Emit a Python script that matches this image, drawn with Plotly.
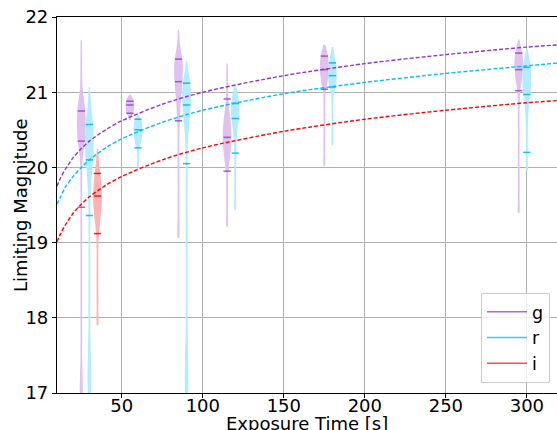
import plotly.graph_objects as go

# ---------------- data ----------------
# fitted limiting-magnitude curves
curve_t = [10, 12, 15, 20, 25, 30, 40, 50, 75, 100, 150, 200, 250, 300, 320]
curve_g = [19.75, 19.85, 19.97, 20.13, 20.25, 20.35, 20.50, 20.62, 20.84, 21.00, 21.22, 21.38, 21.50, 21.60, 21.63]
curve_r = [19.51, 19.60, 19.73, 19.88, 20.00, 20.10, 20.26, 20.38, 20.60, 20.76, 20.98, 21.13, 21.25, 21.35, 21.39]
curve_i = [19.01, 19.11, 19.23, 19.39, 19.51, 19.61, 19.76, 19.88, 20.10, 20.26, 20.48, 20.64, 20.76, 20.86, 20.89]

# violin positions (exposure time, s)
g_pos = [25, 55, 85, 115, 175, 295]
r_pos = [30, 60, 90, 120, 180, 300]
i_pos = [35]

# violin density profiles: magnitude levels and relative widths
g_mag = [
    [21.69, 21.4, 21.1, 20.95, 20.8, 20.6, 20.4, 20.25, 20.1, 19.95, 19.6, 19.3, 18.5, 17.5, 16.9],
    [20.97, 20.93, 20.88, 20.83, 20.78, 20.73, 20.69, 20.66, 20.63],
    [21.83, 21.65, 21.5, 21.35, 21.2, 21.05, 20.9, 20.75, 20.62, 20.5, 20.2, 19.8, 19.4, 19.06],
    [21.38, 21.2, 21.0, 20.9, 20.75, 20.6, 20.45, 20.3, 20.15, 20.0, 19.9, 19.7, 19.4, 19.21],
    [21.63, 21.55, 21.45, 21.35, 21.25, 21.15, 21.05, 20.98, 20.85, 20.5, 20.2, 20.02],
    [21.70, 21.6, 21.5, 21.4, 21.3, 21.2, 21.1, 21.0, 20.9, 20.5, 20.0, 19.6, 19.39],
]
g_dens = [
    [0.15, 0.2, 0.25, 0.5, 0.85, 1.0, 0.9, 0.6, 0.3, 0.22, 0.2, 0.2, 0.2, 0.2, 0.2],
    [0.15, 0.6, 0.9, 1.0, 0.95, 0.8, 0.5, 0.25, 0.15],
    [0.15, 0.3, 0.7, 1.0, 0.95, 0.8, 0.55, 0.4, 0.3, 0.22, 0.2, 0.2, 0.2, 0.15],
    [0.15, 0.2, 0.22, 0.3, 0.55, 0.85, 1.0, 0.95, 0.7, 0.4, 0.22, 0.2, 0.2, 0.15],
    [0.2, 0.6, 0.9, 1.0, 0.95, 0.75, 0.45, 0.25, 0.2, 0.2, 0.2, 0.15],
    [0.15, 0.5, 0.85, 1.0, 0.95, 0.8, 0.55, 0.3, 0.22, 0.2, 0.2, 0.2, 0.15],
]
g_quant = [
    [20.75, 20.35, 19.47],
    [20.88, 20.83, 20.72],
    [21.44, 21.14, 20.62],
    [20.91, 20.40, 19.95],
    [21.48, 21.30, 21.04],
    [21.52, 21.30, 21.02],
]

r_mag = [
    [21.07, 20.95, 20.8, 20.6, 20.4, 20.2, 20.0, 19.8, 19.6, 19.4, 19.0, 18.0, 16.9],
    [20.70, 20.66, 20.6, 20.5, 20.4, 20.3, 20.23, 20.15, 20.0],
    [21.42, 21.3, 21.15, 21.0, 20.85, 20.7, 20.55, 20.4, 20.25, 20.1, 19.7, 19.0, 18.0, 16.9],
    [21.10, 21.0, 20.9, 20.8, 20.7, 20.6, 20.45, 20.3, 20.15, 19.9, 19.6, 19.43],
    [21.60, 21.5, 21.4, 21.3, 21.2, 21.1, 21.02, 20.95, 20.8, 20.5, 20.29],
    [21.58, 21.45, 21.35, 21.2, 21.05, 20.95, 20.8, 20.65, 20.5, 20.3, 20.15, 19.95],
]
r_dens = [
    [0.15, 0.25, 0.45, 0.8, 1.0, 0.95, 0.7, 0.45, 0.28, 0.22, 0.2, 0.2, 0.2],
    [0.15, 0.5, 0.9, 1.0, 0.9, 0.55, 0.28, 0.2, 0.15],
    [0.15, 0.35, 0.8, 1.0, 0.95, 0.8, 0.55, 0.35, 0.25, 0.22, 0.2, 0.2, 0.2, 0.2],
    [0.15, 0.5, 0.85, 1.0, 0.95, 0.75, 0.45, 0.3, 0.22, 0.2, 0.2, 0.15],
    [0.2, 0.45, 0.75, 0.95, 1.0, 0.8, 0.45, 0.25, 0.2, 0.2, 0.15],
    [0.15, 0.55, 0.85, 1.0, 0.95, 0.75, 0.45, 0.3, 0.24, 0.2, 0.2, 0.15],
]
r_quant = [
    [20.57, 20.10, 19.36],
    [20.64, 20.50, 20.26],
    [21.12, 20.83, 20.05],
    [20.85, 20.65, 20.19],
    [21.39, 21.22, 21.07],
    [21.33, 20.97, 20.20],
]

i_mag = [
    [20.25, 20.1, 19.95, 19.8, 19.65, 19.5, 19.35, 19.2, 19.05, 18.9, 18.5, 18.1, 17.9],
]
i_dens = [
    [0.15, 0.3, 0.55, 0.85, 1.0, 0.95, 0.7, 0.45, 0.25, 0.2, 0.2, 0.2, 0.15],
]
i_quant = [
    [19.92, 19.62, 19.12],
]

x_ticks = [50, 100, 150, 200, 250, 300]
y_ticks = [17, 18, 19, 20, 21, 22]
x_title = "Exposure Time [s]"
y_title = "Limiting Magnitude"

# ---------------- styling ----------------
HALF_W = 2.7     # violin half width at max density (s)
Q_HALF = 2.25    # quantile tick half length (s)
FONT = "DejaVu Sans"

bands = [
    ("g", g_pos, g_mag, g_dens, g_quant, "rgb(224,194,240)", "rgba(153,50,204,0.8)", "#9932CC", curve_g, "rgba(153,50,204,0.75)"),
    ("r", r_pos, r_mag, r_dens, r_quant, "rgb(179,236,255)", "rgba(0,175,240,0.85)", "#00BFFF", curve_r, "rgba(0,191,255,0.8)"),
    ("i", i_pos, i_mag, i_dens, i_quant, "rgb(255,178,178)", "rgba(230,0,0,0.85)", "#FF0000", curve_i, "rgba(255,0,0,0.7)"),
]

fig = go.Figure()

# violins
for name, pos, mags, dens, quants, fillc, qc, lc, curve, legc in bands:
    for p, m, d in zip(pos, mags, dens):
        xs = [p + w * HALF_W for w in d] + [p - w * HALF_W for w in reversed(d)]
        ys = list(m) + list(reversed(m))
        fig.add_trace(go.Scatter(
            x=xs, y=ys, mode="lines", fill="toself", fillcolor=fillc,
            line=dict(width=0, color=fillc, shape="spline", smoothing=0.6),
            showlegend=False, hoverinfo="skip"))
    qx, qy = [], []
    for p, qs in zip(pos, quants):
        for q in qs:
            qx += [p - Q_HALF, p + Q_HALF, None]
            qy += [q, q, None]
    fig.add_trace(go.Scatter(x=qx, y=qy, mode="lines",
                             line=dict(color=qc, width=1.5),
                             showlegend=False, hoverinfo="skip"))

# fitted curves (dashed) and legend entries (solid)
for name, pos, mags, dens, quants, fillc, qc, lc, curve, legc in bands:
    fig.add_trace(go.Scatter(
        x=curve_t, y=curve, mode="lines",
        line=dict(color=lc, width=1.4, dash="4px,2px", shape="spline", smoothing=0.8),
        showlegend=False, hoverinfo="skip"))
for name, pos, mags, dens, quants, fillc, qc, lc, curve, legc in bands:
    fig.add_trace(go.Scatter(
        x=[None], y=[None], mode="lines", name=name,
        line=dict(color=legc, width=1.5)))

axis_common = dict(
    showgrid=True, gridcolor="#b0b0b0", gridwidth=1,
    showline=True, linecolor="black", linewidth=1.2,
    ticks="outside", ticklen=4, tickcolor="black", tickwidth=1.2,
    zeroline=False, automargin=False,
    tickfont=dict(family=FONT, size=18, color="black"),
)

PLOT_L, PLOT_T, PLOT_W, PLOT_H = 57, 17, 500, 376

fig.update_layout(
    width=557, height=430,
    margin=dict(l=PLOT_L, r=557 - PLOT_L - PLOT_W, t=PLOT_T, b=430 - PLOT_T - PLOT_H),
    paper_bgcolor="white", plot_bgcolor="white",
    font=dict(family=FONT, size=18, color="black"),
    xaxis=dict(range=[10, 318.6], tickvals=x_ticks, mirror=True,
               ticklabelstandoff=-8, **axis_common),
    yaxis=dict(range=[17, 22], tickvals=y_ticks, mirror=False, **axis_common),
    legend=dict(x=0.986, y=0.027, xanchor="right", yanchor="bottom",
                bgcolor="rgba(255,255,255,0.8)", bordercolor="#cccccc", borderwidth=1,
                font=dict(family=FONT, size=17.5, color="black"),
                itemwidth=40, tracegroupgap=0),
    showlegend=True,
    annotations=[
        dict(text=x_title, xref="paper", yref="paper", x=0.5, y=(PLOT_T + PLOT_H - 423) / PLOT_H,
             xanchor="center", yanchor="middle", showarrow=False,
             font=dict(family=FONT, size=18, color="black")),
        dict(text=y_title, xref="paper", yref="paper", x=(20 - PLOT_L) / PLOT_W, y=0.5,
             xanchor="center", yanchor="middle", textangle=-90, showarrow=False,
             font=dict(family=FONT, size=18, color="black")),
    ],
)

fig.write_html(
    "out.html",
    config={"displayModeBar": False},
    post_script="document.body.style.margin='0';document.body.style.padding='0';"
                "document.body.style.overflow='hidden';",
)
